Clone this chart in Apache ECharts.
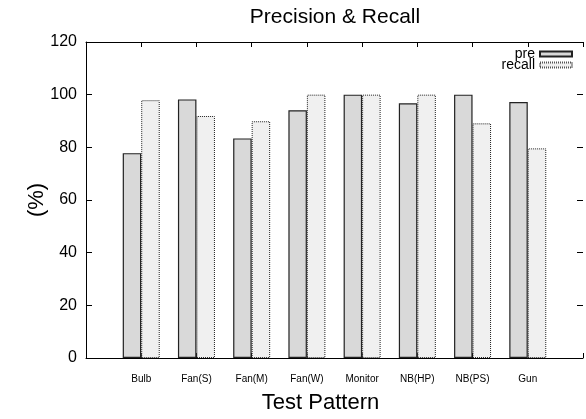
<!DOCTYPE html>
<html>
<head>
<meta charset="utf-8">
<script src="https://cdn.jsdelivr.net/npm/echarts@6/dist/echarts.min.js"></script>
<style>html,body{margin:0;padding:0;background:#fff}#c{width:586px;height:419px}</style>
</head>
<body>
<div id="c"></div>
<script>
var categories = ['Bulb', 'Fan(S)', 'Fan(M)', 'Fan(W)', 'Monitor', 'NB(HP)', 'NB(PS)', 'Gun'];
var preValues = [77.8, 98.2, 83.4, 94.1, 100, 96.7, 100, 97.2];
var recallValues = [97.9, 91.9, 89.9, 100, 100, 100, 89.1, 79.6];
var yTicks = [0, 20, 40, 60, 80, 100, 120];

var FONT = 'Liberation Sans, Arial, Helvetica, sans-serif';
var chart = echarts.init(document.getElementById('c'), null, {renderer: 'canvas'});
function pts(arr) { return arr.map(function (v, i) { return [i, v]; }); }
var xCommon = {
  type: 'value', min: -1, max: categories.length, interval: 1,
  splitLine: {show: false}
};
chart.setOption({
  animation: false,
  backgroundColor: '#fff',
  textStyle: {fontFamily: FONT},
  title: {
    text: 'Precision & Recall', left: 335, top: 7, textAlign: 'center', padding: 0,
    textStyle: {fontFamily: FONT, fontSize: 21, fontWeight: 'normal', color: '#000'}
  },
  legend: {
    orient: 'vertical', right: 13, top: 47, align: 'right', icon: 'rect',
    itemWidth: 32, itemHeight: 5, itemGap: -3, padding: 0,
    textStyle: {fontFamily: FONT, fontSize: 14, color: '#000'},
    data: [
      {name: 'pre'},
      {name: 'recall', itemStyle: {borderType: [1, 1], borderColor: '#555'}}
    ]
  },
  grid: {left: 86, top: 42, width: 504, height: 321},
  xAxis: [
    Object.assign({}, xCommon, {
      position: 'bottom',
      name: 'Test Pattern', nameLocation: 'middle', nameGap: 34, nameMoveOverlap: false,
      nameTextStyle: {fontFamily: FONT, fontSize: 22, color: '#000', padding: [0, 28, 0, 0]},
      axisLine: {show: true, onZero: false, lineStyle: {color: '#000', width: 1}},
      axisTick: {show: true, inside: true, length: 5, lineStyle: {color: '#000'}},
      axisLabel: {
        show: true, margin: 16, fontFamily: FONT, fontSize: 10, color: '#000',
        showMinLabel: true, showMaxLabel: true,
        formatter: function (v) { return categories[v] !== undefined ? categories[v] : ''; }
      }
    }),
    Object.assign({}, xCommon, {
      position: 'top',
      axisLine: {show: true, onZero: false, lineStyle: {color: '#000', width: 1}},
      axisTick: {show: true, inside: true, length: 5, lineStyle: {color: '#000'}},
      axisLabel: {show: false}
    })
  ],
  yAxis: [
    {
      type: 'value', min: yTicks[0], max: yTicks[yTicks.length - 1], interval: yTicks[1] - yTicks[0],
      position: 'left',
      name: '(%)', nameLocation: 'middle', nameGap: 38, nameRotate: 90, nameMoveOverlap: false,
      nameTextStyle: {fontFamily: FONT, fontSize: 22, color: '#000'},
      axisLine: {show: true, onZero: false, lineStyle: {color: '#000', width: 1}},
      axisTick: {show: true, inside: true, length: 6, lineStyle: {color: '#000'}},
      axisLabel: {margin: 9, fontFamily: FONT, fontSize: 16, color: '#000'},
      splitLine: {show: false}
    },
    {
      type: 'value', min: yTicks[0], max: yTicks[yTicks.length - 1], interval: yTicks[1] - yTicks[0],
      position: 'right',
      axisLine: {show: false, onZero: false},
      axisTick: {show: true, inside: true, length: 6, lineStyle: {color: '#000'}},
      axisLabel: {show: false},
      splitLine: {show: false}
    }
  ],
  series: [
    {
      name: 'pre', type: 'bar', xAxisIndex: 0, yAxisIndex: 0,
      barWidth: 18.5, barGap: '0%',
      itemStyle: {color: '#d9d9d9', borderColor: '#222', borderWidth: 1.2, borderType: 'solid'},
      data: pts(preValues)
    },
    {
      name: 'recall', type: 'bar', xAxisIndex: 0, yAxisIndex: 0,
      barWidth: 18.5, barGap: '0%',
      itemStyle: {color: '#f0f0f0', borderColor: '#222', borderWidth: 1, borderType: [1, 1]},
      data: pts(recallValues)
    }
  ]
});
</script>
</body>
</html>
